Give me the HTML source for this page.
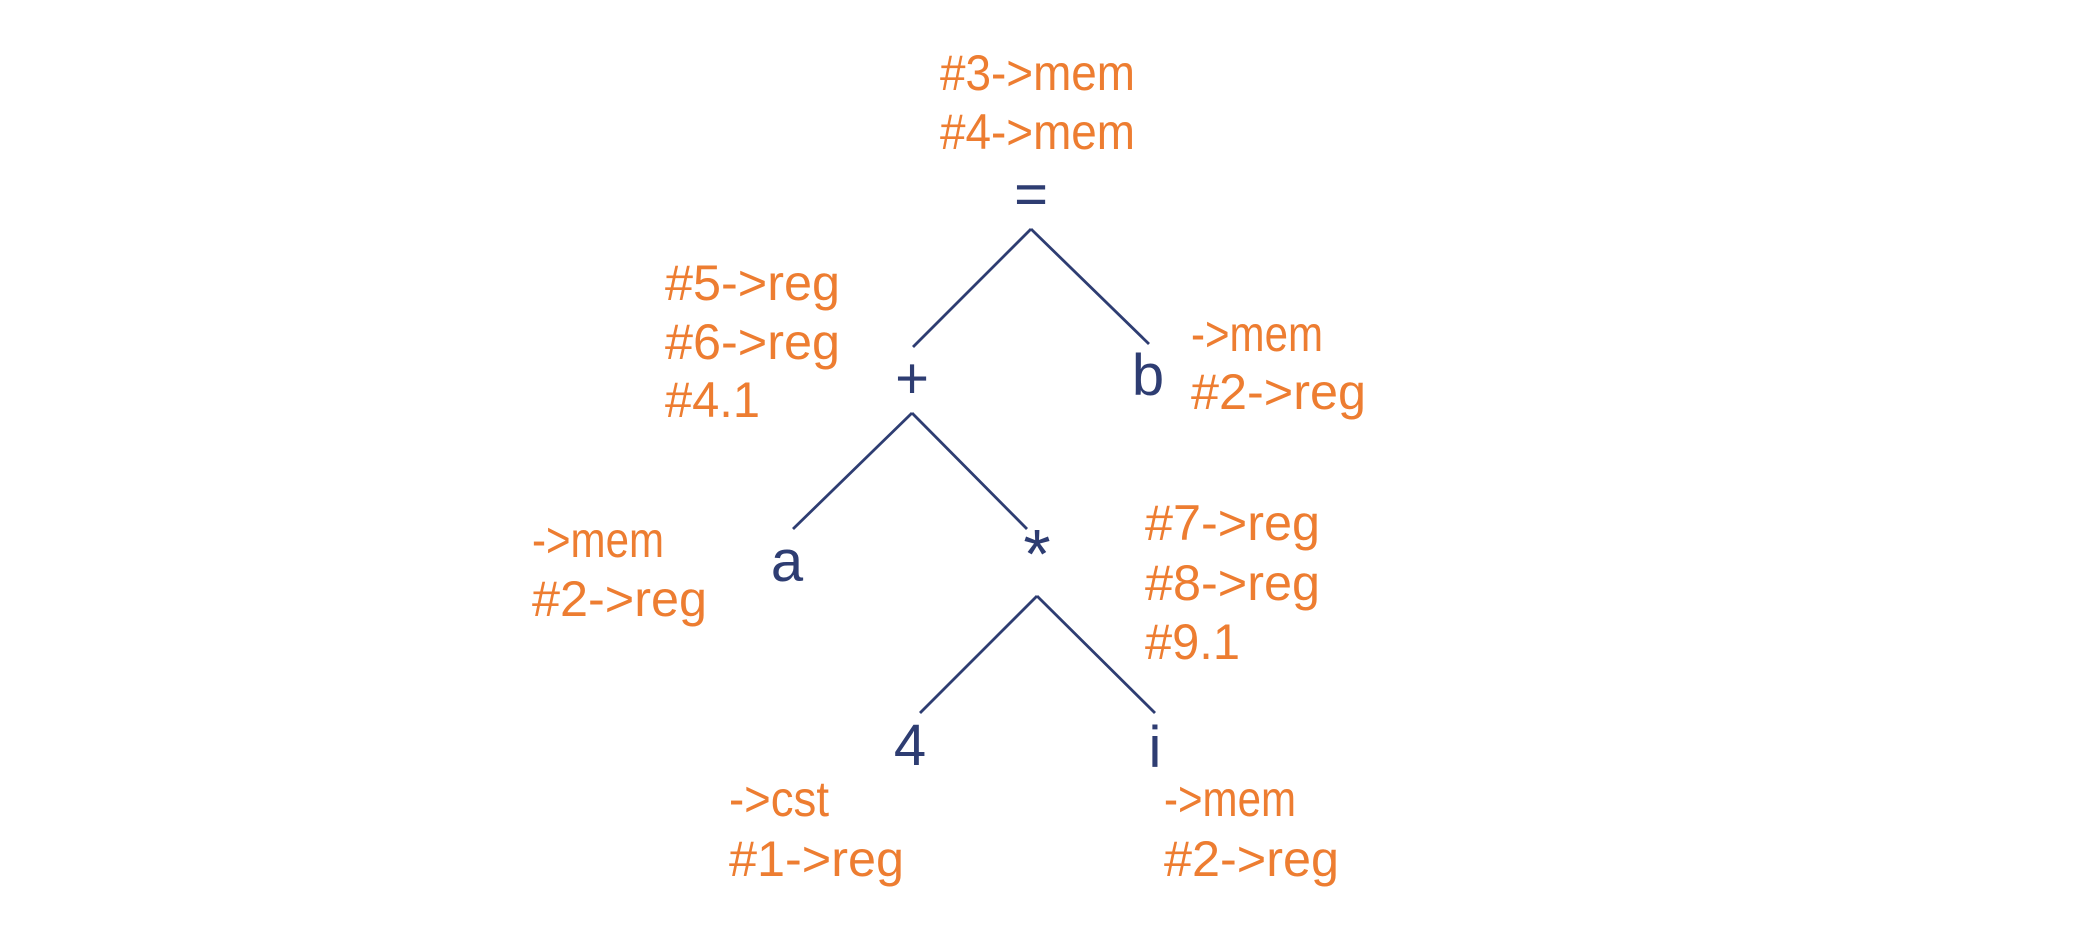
<!DOCTYPE html>
<html><head><meta charset="utf-8"><style>
html,body{margin:0;padding:0;background:#fff;}
svg{display:block}
.o{fill:#ED7D31;font-family:"Liberation Sans",sans-serif;font-size:50px;}
.n{fill:#2E3D72;font-family:"Liberation Sans",sans-serif;font-size:58px;text-anchor:middle;}
line{stroke:#2E3D72;stroke-width:2.8;}
</style></head><body>
<svg width="2088" height="925" viewBox="0 0 2088 925" xmlns="http://www.w3.org/2000/svg">
<g lengthAdjust="spacingAndGlyphs">
<text class="o" x="940" y="90" textLength="195" lengthAdjust="spacingAndGlyphs">#3-&gt;mem</text>
<text class="o" x="940" y="149" textLength="195" lengthAdjust="spacingAndGlyphs">#4-&gt;mem</text>
<text class="o" x="665" y="300" textLength="175" lengthAdjust="spacingAndGlyphs">#5-&gt;reg</text>
<text class="o" x="665" y="359" textLength="175" lengthAdjust="spacingAndGlyphs">#6-&gt;reg</text>
<text class="o" x="665" y="417" textLength="95" lengthAdjust="spacingAndGlyphs">#4.1</text>
<text class="o" x="1191" y="351" textLength="132" lengthAdjust="spacingAndGlyphs">-&gt;mem</text>
<text class="o" x="1191" y="409" textLength="175" lengthAdjust="spacingAndGlyphs">#2-&gt;reg</text>
<text class="o" x="532" y="557" textLength="132" lengthAdjust="spacingAndGlyphs">-&gt;mem</text>
<text class="o" x="532" y="616" textLength="175" lengthAdjust="spacingAndGlyphs">#2-&gt;reg</text>
<text class="o" x="1145" y="540" textLength="175" lengthAdjust="spacingAndGlyphs">#7-&gt;reg</text>
<text class="o" x="1145" y="600" textLength="175" lengthAdjust="spacingAndGlyphs">#8-&gt;reg</text>
<text class="o" x="1145" y="659" textLength="95" lengthAdjust="spacingAndGlyphs">#9.1</text>
<text class="o" x="729" y="816" textLength="100" lengthAdjust="spacingAndGlyphs">-&gt;cst</text>
<text class="o" x="729" y="876" textLength="175" lengthAdjust="spacingAndGlyphs">#1-&gt;reg</text>
<text class="o" x="1164" y="816" textLength="132" lengthAdjust="spacingAndGlyphs">-&gt;mem</text>
<text class="o" x="1164" y="876" textLength="175" lengthAdjust="spacingAndGlyphs">#2-&gt;reg</text>
</g>
<text class="n" x="1031" y="214">=</text>
<line x1="1031" y1="229" x2="913" y2="347"/>
<line x1="1031" y1="229" x2="1149" y2="344"/>
<text class="n" x="912" y="398">+</text>
<text class="n" x="1148" y="395">b</text>
<line x1="912" y1="413" x2="793" y2="529"/>
<line x1="912" y1="413" x2="1027" y2="529"/>
<text class="n" x="787" y="581">a</text>
<text class="n" x="1037" y="578" style="font-size:70px">*</text>
<line x1="1037" y1="596" x2="920" y2="713"/>
<line x1="1037" y1="596" x2="1155" y2="713"/>
<text class="n" x="910" y="765">4</text>
<text class="n" x="1155" y="767">i</text>
</svg>
</body></html>
